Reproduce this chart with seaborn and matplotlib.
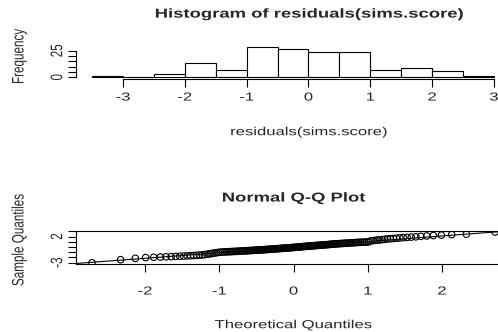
import statistics
import numpy as np
import pandas as pd
import matplotlib
matplotlib.use("Agg")
import matplotlib.pyplot as plt
import seaborn as sns
from matplotlib.patheffects import AbstractPathEffect
from matplotlib.transforms import Affine2D

residuals = [
    -3.02,
    -2.43, -2.17, -2.03,
    -1.97, -1.92, -1.88, -1.85, -1.80, -1.77, -1.74, -1.70, -1.67, -1.63, -1.59, -1.56, -1.52,
    -1.46, -1.38, -1.31, -1.24, -1.17, -1.11, -1.04,
    -0.98, -0.96, -0.95, -0.93, -0.91, -0.89, -0.88, -0.86, -0.84, -0.83,
    -0.81, -0.79, -0.78, -0.76, -0.74, -0.73, -0.71, -0.69, -0.67, -0.66,
    -0.64, -0.62, -0.61, -0.59, -0.57, -0.56, -0.54, -0.53, -0.51,
    -0.49, -0.47, -0.45, -0.44, -0.42, -0.40, -0.38, -0.36, -0.35, -0.33,
    -0.31, -0.29, -0.27, -0.26, -0.24, -0.22, -0.20, -0.18, -0.17, -0.15,
    -0.13, -0.11, -0.09, -0.07, -0.05, -0.04, -0.02,
    0.02, 0.04, 0.06, 0.08, 0.10, 0.12, 0.14, 0.16, 0.18, 0.20, 0.22, 0.24,
    0.26, 0.28, 0.30, 0.32, 0.34, 0.36, 0.38, 0.40, 0.42, 0.44, 0.46, 0.48,
    0.52, 0.54, 0.56, 0.58, 0.60, 0.62, 0.64, 0.66, 0.68, 0.70, 0.72, 0.74,
    0.76, 0.78, 0.80, 0.82, 0.84, 0.86, 0.88, 0.90, 0.92, 0.94, 0.96, 0.98,
    1.18, 1.22, 1.27, 1.31, 1.36, 1.41, 1.46,
    1.54, 1.58, 1.63, 1.68, 1.73, 1.78, 1.84, 1.89, 1.95,
    2.04, 2.11, 2.19, 2.27, 2.36, 2.45,
    2.86,
]
bin_edges = [-3.5, -3.0, -2.5, -2.0, -1.5, -1.0, -0.5, 0.0, 0.5, 1.0, 1.5, 2.0, 2.5, 3.0]
hist_xticks = [-3, -2, -1, 0, 1, 2, 3]
hist_yticks = [0, 5, 10, 15, 20, 25]
hist_ylabels = ["0", "", "", "", "", "25"]
qq_xticks = [-2, -1, 0, 1, 2]
qq_yticks = [-3, -2, -1, 0, 1, 2, 3]
qq_ylabels = ["-3", "", "", "", "", "2", ""]


class Squash(AbstractPathEffect):
    """The reference is an R plot squeezed vertically; squeeze the glyphs too."""

    def __init__(self, sy=0.7):
        super().__init__()
        self.sy = sy

    def draw_path(self, renderer, gc, tpath, affine, rgbFace=None):
        ext = tpath.get_extents(affine)
        cy = (ext.y0 + ext.y1) / 2
        affine = affine + Affine2D().translate(0, -cy).scale(1, self.sy).translate(0, cy)
        renderer.draw_path(gc, tpath, affine, rgbFace)


squash = [Squash(0.7)]

sns.set_style("white")
plt.rcParams["font.family"] = ["Liberation Sans", "DejaVu Sans"]

W, H = 498, 332
fig = plt.figure(figsize=(W / 100, H / 100), dpi=100)


def px_axes(left, right, top, bottom):
    return fig.add_axes([left / W, 1 - bottom / H, (right - left) / W, (bottom - top) / H])


def squash_ticklabels(ax):
    for t in ax.get_xticklabels() + ax.get_yticklabels():
        t.set_path_effects(squash)


# ---- histogram
ax1 = px_axes(76, 510, 45.3, 78.5)
sns.histplot(x=residuals, bins=bin_edges, stat="count", color="white",
             edgecolor="black", linewidth=0.8, alpha=1, ax=ax1)
ax1.set_xlim(-3.76, 3.26)
ax1.set_ylim(-1.16, 30.16)
for s in ["top", "right"]:
    ax1.spines[s].set_visible(False)
ax1.spines["bottom"].set_bounds(-3, 3)
ax1.spines["left"].set_bounds(0, 25)
for s in ["bottom", "left"]:
    ax1.spines[s].set_color("black")
    ax1.spines[s].set_linewidth(0.8)
ax1.set_xticks(hist_xticks)
ax1.set_xticklabels([str(t) for t in hist_xticks])
ax1.set_yticks(hist_yticks)
ax1.set_yticklabels(hist_ylabels, rotation=90, va="center")
ax1.tick_params(axis="both", direction="out", length=6, width=0.8, labelsize=12,
                bottom=True, left=True, color="black")
ax1.tick_params(axis="x", pad=2.5)
ax1.tick_params(axis="y", pad=1.8)
ax1.set_xlabel("")
ax1.set_ylabel("")
squash_ticklabels(ax1)

# ---- normal Q-Q plot
n = len(residuals)
theoretical = [statistics.NormalDist().inv_cdf((i - 0.5) / n) for i in range(1, n + 1)]
qq = pd.DataFrame({"theoretical": theoretical, "sample": sorted(residuals)})

ax2 = px_axes(76, 511, 230.8, 264.0)
sns.scatterplot(data=qq, x="theoretical", y="sample", marker="o", s=22,
                fc="none", ec="black", linewidth=0.8, ax=ax2)
q1, q3 = np.percentile(residuals, [25, 75])
z1 = statistics.NormalDist().inv_cdf(0.25)
z3 = statistics.NormalDist().inv_cdf(0.75)
slope = (q3 - q1) / (z3 - z1)
ax2.axline((z1, q1), slope=slope, color="black", linewidth=0.8)
ax2.set_xlim(-2.93, 2.93)
ax2.set_ylim(-3.255, 3.095)
for s in ax2.spines.values():
    s.set_visible(True)
    s.set_color("black")
    s.set_linewidth(0.8)
ax2.set_xticks(qq_xticks)
ax2.set_xticklabels([str(t) for t in qq_xticks])
ax2.set_yticks(qq_yticks)
ax2.set_yticklabels(qq_ylabels, rotation=90, va="center")
ax2.tick_params(axis="both", direction="out", length=6, width=0.8, labelsize=12,
                bottom=True, left=True, color="black")
ax2.tick_params(axis="x", pad=8.6)
ax2.tick_params(axis="y", pad=1.8)
ax2.set_xlabel("")
ax2.set_ylabel("")
squash_ticklabels(ax2)

# ---- titles and axis labels
texts = [
    (309, 14.5, "Histogram of residuals(sims.score)", 0, 13.3, "bold"),
    (309, 132, "residuals(sims.score)", 0, 12, "normal"),
    (19, 56.5, "Frequency", 90, 12, "normal"),
    (293.5, 198.5, "Normal Q-Q Plot", 0, 13.3, "bold"),
    (293.5, 325, "Theoretical Quantiles", 0, 12, "normal"),
    (19, 240, "Sample Quantiles", 90, 12, "normal"),
]
for x, y, s, rot, size, weight in texts:
    fig.text(x / W, 1 - y / H, s, ha="center", va="center", rotation=rot,
             fontsize=size, fontweight=weight, path_effects=squash)

fig.savefig("out.png", dpi=100)
